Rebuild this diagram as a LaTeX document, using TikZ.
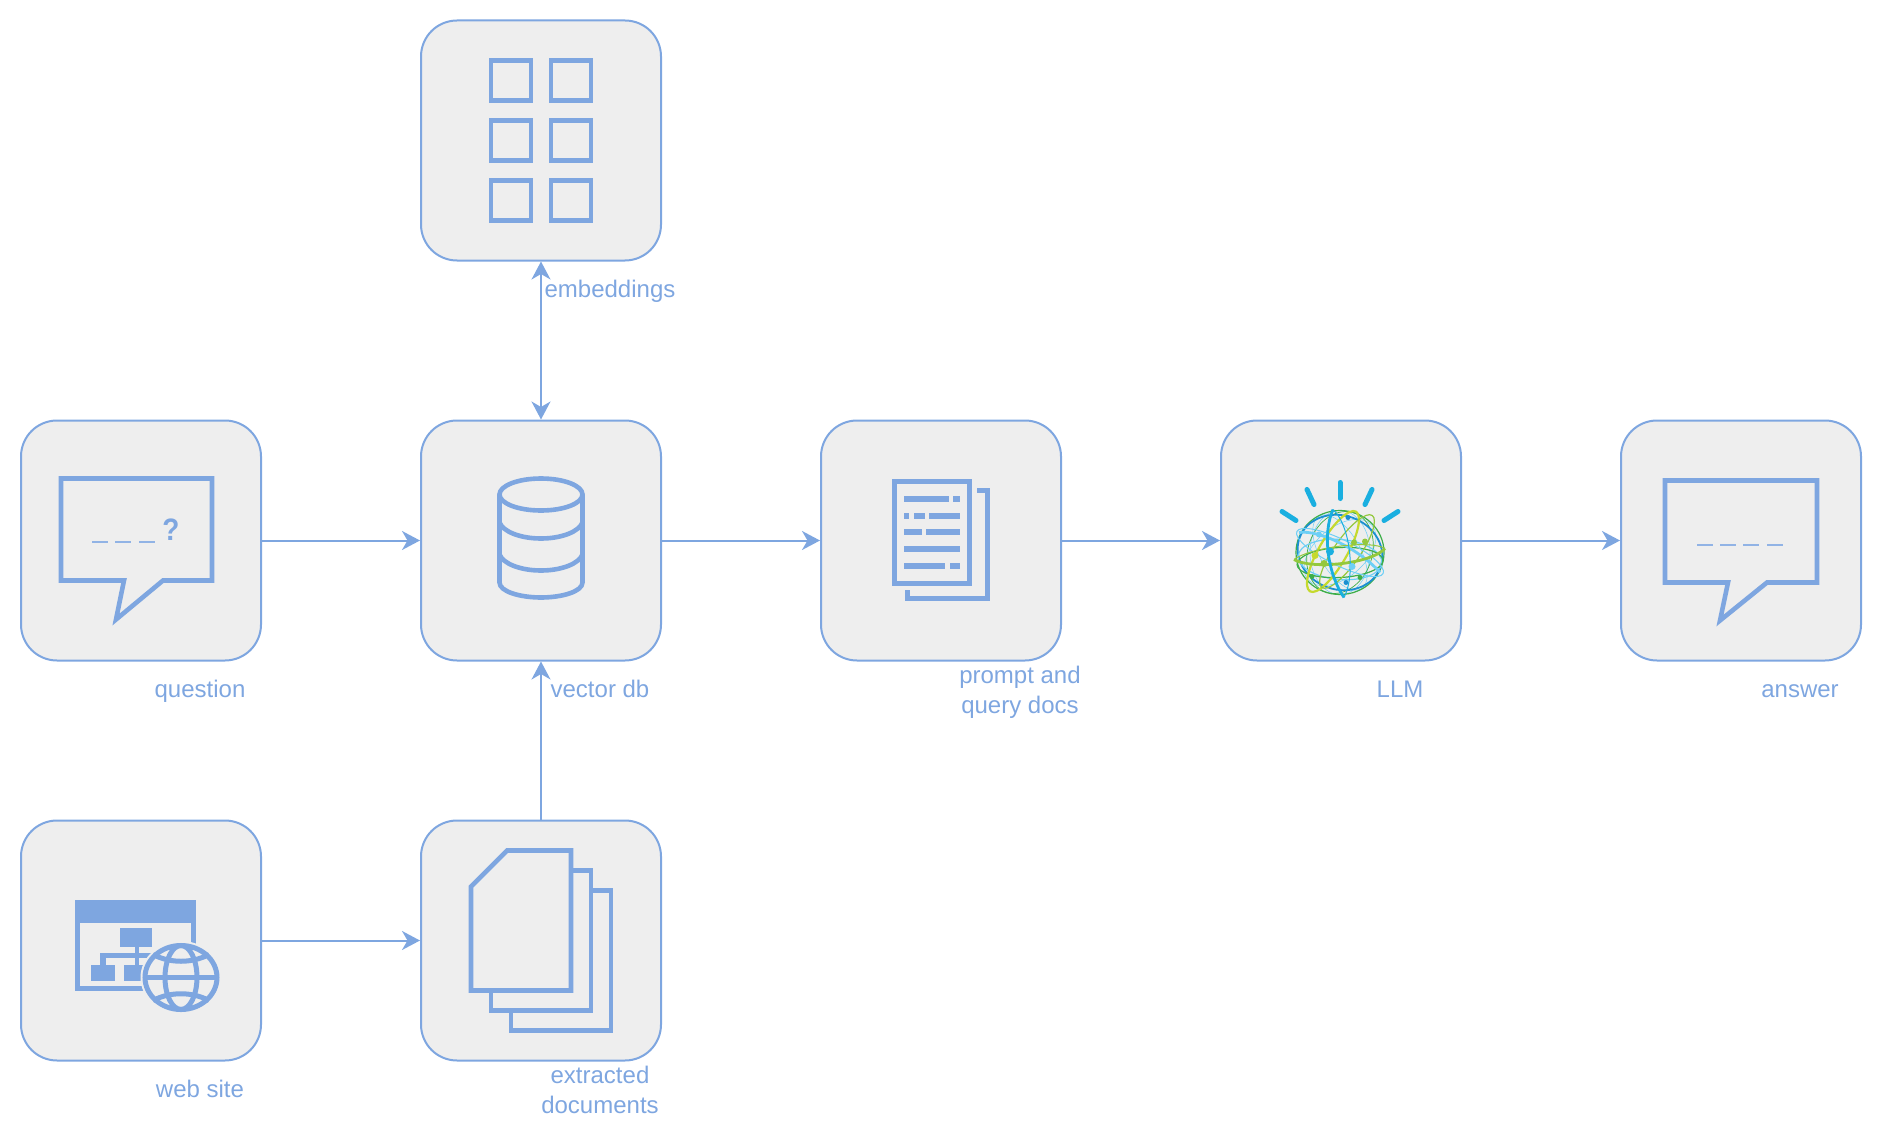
\documentclass[tikz,border=0pt]{standalone}
\usepackage{fontspec}
\setmainfont{Liberation Sans}
\usetikzlibrary{arrows.meta}
\definecolor{flow}{HTML}{7EA6E0}
\definecolor{panel}{HTML}{EEEEEE}
\definecolor{ray}{HTML}{1AAFE0}
\definecolor{ltblue}{HTML}{6DCFF6}
\definecolor{dkblue}{HTML}{1B8FD1}
\definecolor{dkgreen}{HTML}{3DAE49}
\definecolor{olive}{HTML}{94C83D}
\definecolor{lime}{HTML}{C5D92D}
\tikzset{
  x=1pt,y=-1pt,
  box/.style={draw=flow,fill=panel,line width=2pt,rounded corners=36pt,minimum width=240pt,minimum height=240pt,inner sep=0pt},
  conn/.style={draw=flow,line width=2pt,-{Stealth[length=18pt,width=19pt,inset=5.5pt,color=flow]}},
  biconn/.style={draw=flow,line width=2pt,{Stealth[length=18pt,width=19pt,inset=5.5pt,color=flow]}-{Stealth[length=18pt,width=19pt,inset=5.5pt,color=flow]}},
  lab/.style={text=flow,inner sep=0pt,anchor=base,font=\fontsize{24pt}{30pt}\selectfont},
  labm/.style={text=flow,inner sep=0pt,align=center,font=\fontsize{24pt}{30pt}\selectfont},
  ico/.style={draw=flow,line width=4.6pt,miter limit=10},
  icothick/.style={draw=flow,line width=5pt},
  dashes/.style={draw=flow!85!white,line width=2pt},
  bar/.style={draw=flow,line width=6pt},
  rayline/.style={draw=ray,line width=5pt,line cap=round},
  orbit/.style={line width=#1}
}
\begin{document}
\begin{tikzpicture}
\useasboundingbox (0,0.5) rectangle (1882,1142.5);
% panels
\node[box] (emb) at (541,141) {};
\node[box] (q) at (141,541) {};
\node[box] (db) at (541,541) {};
\node[box] (pr) at (941,541) {};
\node[box] (llm) at (1341,541) {};
\node[box] (ans) at (1741,541) {};
\node[box] (web) at (141,941) {};
\node[box] (docs) at (541,941) {};
% connectors
\draw[conn] (q) -- (db);
\draw[conn] (db) -- (pr);
\draw[conn] (pr) -- (llm);
\draw[conn] (llm) -- (ans);
\draw[conn] (web) -- (docs);
\draw[conn] (docs) -- (db);
\draw[biconn] (db) -- (emb);
% labels
\node[lab] (lq) at (200,698) {question};
\node[lab] (ldb) at (600,698) {vector db};
\node[lab] (lemb) at (610,298) {embeddings};
\node[lab] (lllm) at (1400,698) {LLM};
\node[lab] (lans) at (1800,698) {answer};
\node[lab] (lweb) at (200,1098) {web site};
\node[labm] (lpr) at (1020,693) {prompt and\\query docs};
\node[labm] (ldocs) at (600,1090.5) {extracted\\documents};
% embeddings icon
\foreach \cx in {511,571}{\foreach \cy in {81,141,201}{
  \draw[ico] (\cx-20,\cy-20) rectangle (\cx+20,\cy+20);
}}
% question icon
\draw[ico] (61,479) -- (212,479) -- (212,581) -- (163,581) -- (116,620) -- (124,581) -- (61,581) -- cycle;
\draw[dashes] (92,542) -- (108,542) (115,542) -- (131,542) (139,542) -- (155,542);
\node[text=flow,inner sep=0pt,font=\fontsize{31pt}{31pt}\selectfont\bfseries,xscale=0.9] (qm) at (171,530) {?};
% answer icon
\draw[ico] (1665,481) -- (1817,481) -- (1817,583) -- (1767,583) -- (1720,621) -- (1728,583) -- (1665,583) -- cycle;
\draw[dashes] (1697,545) -- (1713,545) (1720,545) -- (1736,545) (1743,545) -- (1759,545) (1767,545) -- (1783,545);
% database icon
\draw[ico,line cap=round,line join=round] (541,495) ellipse [x radius=41.5,y radius=16];
\draw[ico,line cap=round,line join=round] (499.5,495) -- (499.5,583) .. controls (499.5,592) and (520,598) .. (541,598) .. controls (562,598) and (582.5,592) .. (582.5,583) -- (582.5,495);
\draw[ico] (499.5,523) .. controls (503,532) and (520,539) .. (541,539) .. controls (562,539) and (579,532) .. (582.5,523);
\draw[ico] (499.5,555) .. controls (503,564) and (520,571) .. (541,571) .. controls (562,571) and (579,564) .. (582.5,555);
% prompt docs icon
\draw[icothick] (894.5,481.5) rectangle (969.5,583.5);
\draw[icothick] (977,490.5) -- (987.5,490.5) -- (987.5,598.5) -- (907.5,598.5) -- (907.5,590);
\draw[bar] (904,499) -- (949,499) (953,499) -- (960,499);
\draw[bar] (904,516) -- (909,516) (914,516) -- (925,516) (929,516) -- (960,516);
\draw[bar] (904,532) -- (922,532) (926,532) -- (960,532);
\draw[bar] (904,549) -- (960,549);
\draw[bar] (904,566) -- (945,566) (950,566) -- (960,566);
% extracted documents icon
\draw[ico] (593,891) -- (611,891) -- (611,1031) -- (511,1031) -- (511,1011);
\draw[ico] (573,871) -- (591,871) -- (591,1011) -- (491,1011) -- (491,993);
\draw[ico] (471,887) -- (507,851) -- (571,851) -- (571,991) -- (471,991) -- cycle;
% web site icon
\draw[icothick] (77.5,902.5) rectangle (193.5,988.5);
\fill[flow] (75,900) rectangle (196,923);
\fill[flow] (120,928) rectangle (152,947);
\fill[flow] (91,965) rectangle (115,981);
\fill[flow] (124,965) rectangle (150,981);
\fill[flow] (135,947) rectangle (139,965);
\fill[flow] (100,953) rectangle (160,958);
\fill[flow] (100,953) rectangle (106,965);
\draw[draw=panel,fill=panel,line width=1pt] (181,978) ellipse [x radius=40,y radius=36];
\draw[icothick] (181,978) ellipse [x radius=36,y radius=32];
\draw[icothick] (181,978) ellipse [x radius=16,y radius=32];
\draw[icothick] (145,978) -- (217,978);
\draw[icothick] (153,955) .. controls (170,964) and (192,964) .. (209,955);
\draw[icothick] (153,1001) .. controls (170,992) and (192,992) .. (209,1001);
% LLM icon
\draw[rayline] (1340,483) -- (1340,499);
\draw[rayline] (1307,490) -- (1314,505);
\draw[rayline] (1372,490) -- (1365,505);
\draw[rayline] (1282,512) -- (1296,521);
\draw[rayline] (1398,512) -- (1384,521);
\draw[ltblue,orbit=0.5pt] (1340,553) ellipse [x radius=42,y radius=25,rotate=40];
\draw[ltblue,orbit=0.5pt] (1340,553) ellipse [x radius=42,y radius=20,rotate=-60];
\draw[ltblue,orbit=0.5pt] (1340,553) ellipse [x radius=30,y radius=42];
\draw[dkgreen,orbit=1.2pt] (1340,553) ellipse [x radius=44,y radius=42];
\draw[dkgreen,orbit=0.7pt] (1340,553) ellipse [x radius=42,y radius=32,rotate=70];
\draw[dkblue,orbit=1.8pt] (1340,553) ellipse [x radius=43,y radius=37,rotate=-20];
\draw[ltblue,orbit=1.2pt] (1340,560) ellipse [x radius=42,y radius=20,rotate=-5];
\draw[dkgreen,orbit=1.2pt] (1340,563) ellipse [x radius=43,y radius=15,rotate=3];
\draw[lime,orbit=2.2pt] (1333,552) ellipse [x radius=46,y radius=14,rotate=60];
\draw[olive,orbit=1.2pt] (1347,552) ellipse [x radius=44,y radius=13,rotate=55];
\draw[ltblue,orbit=1pt] (1340,553) ellipse [x radius=48,y radius=13,rotate=-26];
\draw[ltblue,orbit=2.8pt] (1299,533) .. controls (1319,530) and (1360,550) .. (1380,573);
\draw[olive,orbit=1pt] (1294,560) .. controls (1310,548) and (1370,540) .. (1385,549);
\draw[olive,orbit=2.8pt] (1294,560) .. controls (1310,570) and (1370,565) .. (1385,549);
\draw[ray,orbit=1pt] (1333,510) .. controls (1350,525) and (1356,575) .. (1344,598);
\draw[ray,orbit=2.8pt] (1333,510) .. controls (1322,535) and (1328,575) .. (1344,598);
\foreach \px/\py/\pr/\pc in {1330/552/4/ray,1315/556/3.5/lime,1324/564/3.5/olive,1352/567/3.5/ltblue,1354/543/3/olive,1365/542/3/olive,1319/535/3/ltblue,1348/518/2.5/dkblue,1312/577/2.5/dkgreen,1360/578/2.5/dkgreen,1346/583/2.5/dkblue}{
  \fill[\pc] (\px,\py) circle [radius=\pr];
}
\end{tikzpicture}
\end{document}
